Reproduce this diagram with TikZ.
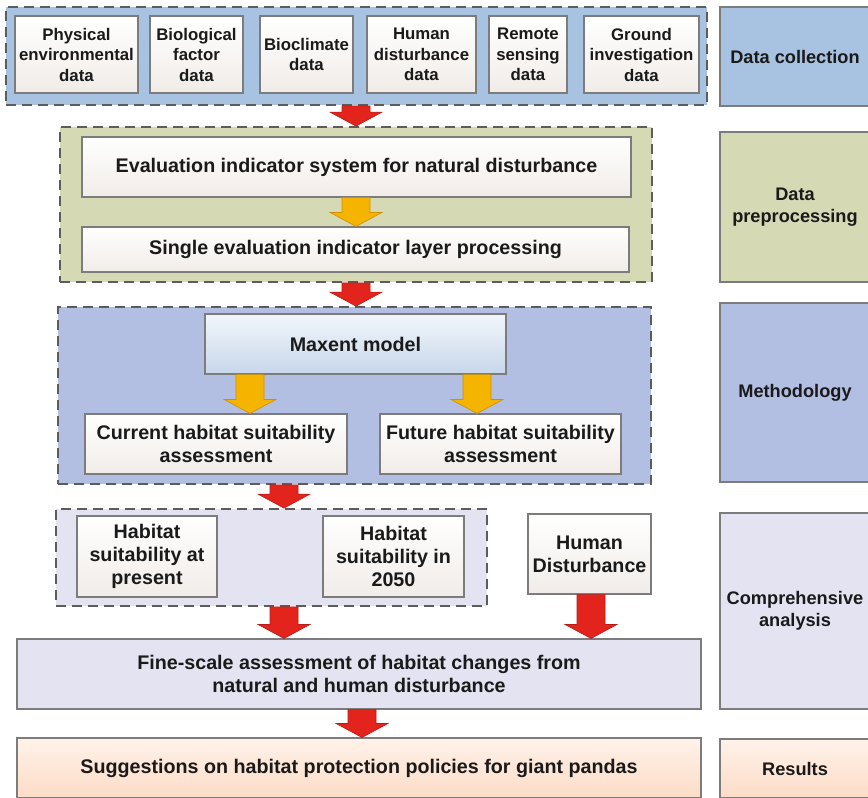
\documentclass[tikz,border=0pt]{standalone}
\usepackage{fontspec}
\setmainfont{Liberation Sans}
\usetikzlibrary{calc}
\definecolor{dcblue}{HTML}{A8C3E1}
\definecolor{ppgreen}{HTML}{D5DAB5}
\definecolor{mtblue}{HTML}{B3BEE3}
\definecolor{calav}{HTML}{E4E3F1}
\definecolor{respeach}{HTML}{FCDCC6}
\definecolor{respeachlt}{HTML}{FFF2EA}
\definecolor{boxline}{HTML}{7C7C7C}
\definecolor{dashgray}{HTML}{5C5C5C}
\definecolor{arrred}{HTML}{E3241D}
\definecolor{arrreddk}{HTML}{B81A16}
\definecolor{arryel}{HTML}{F4B400}
\definecolor{arryeldk}{HTML}{D08F00}
\definecolor{wbot}{HTML}{F1ECE8}
\definecolor{mxtop}{HTML}{F2F6FB}
\definecolor{mxbot}{HTML}{C7D7EA}
\definecolor{txt}{HTML}{1A1A1A}
\newcommand\blockarr[4]{%
  \path[#1] let \p1=(#2 |- #3.south), \p2=(#2 |- #4.north) in
   (\x1-14pt,\y1) -- (\x1+14pt,\y1) -- (\x1+14pt,\y2+14pt) -- (\x1+26pt,\y2+14pt)
   -- (\x1,\y2) -- (\x1-26pt,\y2+14pt) -- (\x1-14pt,\y2+14pt) -- cycle;}
\begin{document}
\begin{tikzpicture}[x=1pt,y=-1pt,
  every node/.style={font=\fontsize{16.8}{20.5}\selectfont\bfseries, align=center, text=txt, inner sep=0pt},
  big/.style={font=\fontsize{19.7}{23}\selectfont\bfseries},
  mid/.style={font=\fontsize{18.2}{22}\selectfont\bfseries},
  dashbox/.style={draw=dashgray, line width=1.8pt, dash pattern=on 10pt off 6pt, fill=#1},
  wbox/.style={draw=boxline, line width=1.1pt, top color=white, bottom color=wbot},
  flatbox/.style={draw=boxline, line width=1.1pt, fill=#1},
  labbox/.style={draw=boxline, line width=1.1pt, fill=#1, minimum width=150pt, mid},
  redarr/.style={fill=arrred, draw=arrreddk, line width=0.6pt},
  yelarr/.style={fill=arryel, draw=arryeldk, line width=0.6pt}]
\useasboundingbox (0,0) rectangle (868,798);
\clip (0,0) rectangle (868,798);
\fill[white] (0,0) rectangle (868,798);

% ---------- Data collection ----------
\node[dashbox=dcblue, minimum width=701pt, minimum height=98pt] (dcbox) at (356.5,56) {};
\node[wbox, minimum width=123pt, minimum height=77pt] (phys) at (76.5,54.5) {Physical\\environmental\\data};
\node[wbox, minimum width=93pt, minimum height=77pt] (bio) at (196.5,54.5) {Biological\\factor\\data};
\node[wbox, minimum width=93pt, minimum height=77pt] (bioc) at (306.5,54.5) {Bioclimate\\data};
\node[wbox, minimum width=109pt, minimum height=77pt] (hum) at (421.5,54.5) {Human\\disturbance\\data};
\node[wbox, minimum width=78pt, minimum height=77pt] (rem) at (528,54.5) {Remote\\sensing\\data};
\node[wbox, minimum width=115pt, minimum height=77pt] (gro) at (641.5,54.5) {Ground\\investigation\\data};
\node[labbox=dcblue, minimum height=99pt] (lab1) at (795,56.5) {Data collection};

% ---------- Data preprocessing ----------
\node[dashbox=ppgreen, minimum width=592pt, minimum height=155pt] (ppbox) at (356,204.5) {};
\node[wbox, big, minimum width=549pt, minimum height=60pt] (eval) at (356.5,167) {Evaluation indicator system for natural disturbance};
\node[wbox, big, minimum width=547pt, minimum height=45pt] (single) at (355.5,249.5) {Single evaluation indicator layer processing};
\node[labbox=ppgreen, minimum height=150pt] (lab2) at (795,207) {Data\\preprocessing};

% ---------- Methodology ----------
\node[dashbox=mtblue, minimum width=593pt, minimum height=177pt] (mbox) at (354.5,395.5) {};
\node[draw=boxline, line width=1.1pt, top color=mxtop, bottom color=mxbot, big, minimum width=301pt, minimum height=60pt] (maxent) at (355.5,344) {Maxent model};
\node[wbox, big, minimum width=262pt, minimum height=60pt] (cur) at (216,444) {Current habitat suitability\\assessment};
\node[wbox, big, minimum width=241pt, minimum height=60pt] (fut) at (500.5,444) {Future habitat suitability\\assessment};
\node[labbox=mtblue, minimum height=179pt] (lab3) at (795,392.5) {Methodology};

% ---------- Comprehensive analysis ----------
\node[dashbox=calav, minimum width=431pt, minimum height=97pt] (hbox) at (271.5,557.5) {};
\node[wbox, big, minimum width=140pt, minimum height=81pt] (hp) at (147,556.5) {Habitat\\suitability at\\present};
\node[wbox, big, minimum width=141pt, minimum height=81pt] (h50) at (393.5,556.5) {Habitat\\suitability in\\2050};
\node[wbox, big, minimum width=123pt, minimum height=80pt] (hd) at (589.5,554) {Human\\Disturbance};
\node[flatbox=calav, big, minimum width=684pt, minimum height=70pt] (fine) at (359,674) {Fine-scale assessment of habitat changes from\\natural and human disturbance};
\node[labbox=calav, minimum height=196pt] (lab4) at (795,611) {Comprehensive\\analysis};

% ---------- Results ----------
\node[draw=boxline, line width=1.1pt, top color=respeachlt, bottom color=respeach, big, minimum width=684pt, minimum height=60pt] (sugg) at (359,768) {Suggestions on habitat protection policies for giant pandas};
\node[draw=boxline, line width=1.1pt, top color=respeachlt, bottom color=respeach, mid, minimum width=150pt, minimum height=59pt] (lab5) at (795,768.5) {Results};

% ---------- Arrows ----------
\coordinate (xa) at (356,0);
\coordinate (xb) at (250,0);
\coordinate (xc) at (477,0);
\coordinate (xd) at (284,0);
\coordinate (xe) at (591,0);
\coordinate (xf) at (362,0);
\blockarr{redarr}{xa}{dcbox}{ppbox}
\blockarr{yelarr}{xa}{eval}{single}
\blockarr{redarr}{xa}{ppbox}{mbox}
\blockarr{yelarr}{xb}{maxent}{cur}
\blockarr{yelarr}{xc}{maxent}{fut}
\blockarr{redarr}{xd}{mbox}{hbox}
\blockarr{redarr}{xd}{hbox}{fine}
\blockarr{redarr}{xe}{hd}{fine}
\blockarr{redarr}{xf}{fine}{sugg}
\end{tikzpicture}
\end{document}
